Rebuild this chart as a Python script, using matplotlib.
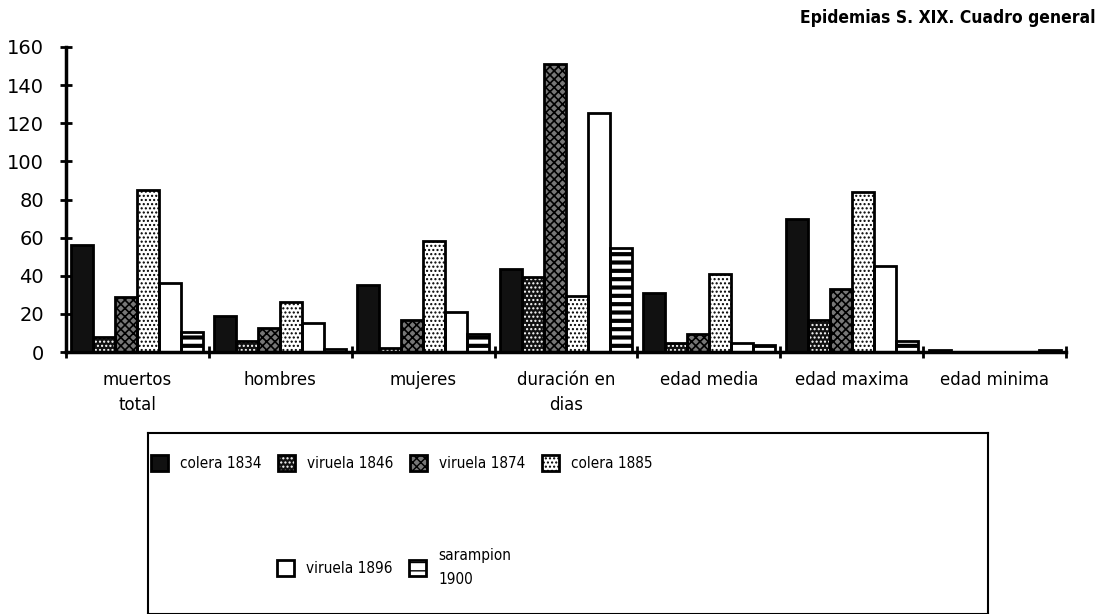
import numpy as np
import matplotlib
matplotlib.use("Agg")
import matplotlib.pyplot as plt
from matplotlib.patches import Patch
from matplotlib.legend_handler import HandlerTuple

categories = ["muertos\ntotal", "hombres", "mujeres", "duración en\ndias",
              "edad media", "edad maxima", "edad minima"]
series = ["colera 1834", "viruela 1846", "viruela 1874", "colera 1885",
          "viruela 1896", "sarampion\n1900"]

colera_1834 = [56, 19, 35, 43.5, 31, 70, 1]
viruela_1846 = [8, 6, 2, 39.5, 4.5, 17, 0]
viruela_1874 = [29, 12.5, 17, 151, 9.5, 33, 0]
colera_1885 = [85, 26, 58, 29.5, 41, 84, 0]
viruela_1896 = [36, 15, 21, 125.5, 4.5, 45, 0]
sarampion_1900 = [10.5, 1.5, 9.5, 54.5, 3.5, 6, 1]
values = [colera_1834, viruela_1846, viruela_1874, colera_1885,
          viruela_1896, sarampion_1900]

# face colour, hatch, hatch colour, hatch linewidth
styles = [
    ("#111111", None, "black", 1.0),
    ("#111111", "....", "white", 1.0),
    ("#777777", "xxxx", "black", 1.2),
    ("white", "....", "black", 1.0),
    ("white", None, "black", 1.0),
    ("white", "--", "black", 3.0),
]

plt.rcParams["font.family"] = "DejaVu Sans"

fig = plt.figure(figsize=(11.01, 6.14), dpi=100)
ax = fig.add_axes([66 / 1101, 1 - 352 / 614, 1000 / 1101, 305 / 614])

x = np.arange(len(categories))
w = 0.154
handles = []
for i, (name, vals) in enumerate(zip(series, values)):
    fc, hatch, hc, hlw = styles[i]
    pos = x + (i - 2.5) * w
    fill = ax.bar(pos, vals, w, color=fc, edgecolor=hc, hatch=hatch,
                  linewidth=0, zorder=2)
    for b in fill:
        if hasattr(b, "set_hatch_linewidth"):
            b.set_hatch_linewidth(hlw)
    ax.bar(pos, vals, w, fill=False, edgecolor="black", linewidth=2, zorder=3)
    h1 = Patch(facecolor=fc, edgecolor=hc, hatch=hatch, linewidth=0)
    if hasattr(h1, "set_hatch_linewidth"):
        h1.set_hatch_linewidth(hlw)
    h2 = Patch(fill=False, edgecolor="black", linewidth=2)
    handles.append((h1, h2))

ax.set_xlim(-0.5, len(categories) - 0.5)
ax.set_ylim(0, 160)
ax.set_yticks(np.arange(0, 161, 20))
ax.tick_params(axis="y", direction="inout", length=8, width=2,
               labelsize=14, pad=12)
ax.set_xticks(x)
ax.set_xticklabels(categories, fontsize=12, linespacing=1.5)
ax.tick_params(axis="x", length=0, pad=14)
ax.set_xticks(np.arange(-0.5, len(categories)), minor=True)
ax.tick_params(axis="x", which="minor", direction="inout", length=8, width=2)
for s in ["top", "right"]:
    ax.spines[s].set_visible(False)
for s in ["left", "bottom"]:
    ax.spines[s].set_linewidth(2.5)

fig.text(0.995, 0.985, "Epidemias S. XIX. Cuadro general", ha="right",
         va="top", fontsize=12.5, fontweight="bold", fontstretch="condensed")

lax = fig.add_axes([148 / 1101, 0, 840 / 1101, 181 / 614])
lax.set_xticks([])
lax.set_yticks([])
for s in lax.spines.values():
    s.set_linewidth(1.5)
lax.set_facecolor("none")

hm = {tuple: HandlerTuple(ndivide=1)}
lprop = {"size": 11, "stretch": "condensed"}
leg1 = lax.legend(handles[:4], series[:4], ncol=4, loc="upper left",
                  bbox_to_anchor=(-0.013, 0.955), frameon=False, prop=lprop,
                  handlelength=1.1, handleheight=1.2, columnspacing=1.1,
                  handletextpad=0.8, handler_map=hm)
lax.add_artist(leg1)
leg2 = lax.legend(handles[4:], series[4:], ncol=2, loc="upper left",
                  bbox_to_anchor=(0.137, 0.44), frameon=False, prop=lprop,
                  handlelength=1.1, handleheight=1.2, columnspacing=1.1,
                  handletextpad=0.8, handler_map=hm)
for t in leg2.get_texts():
    t.set_linespacing(1.7)

fig.savefig("out.png", dpi=100, facecolor="white")
